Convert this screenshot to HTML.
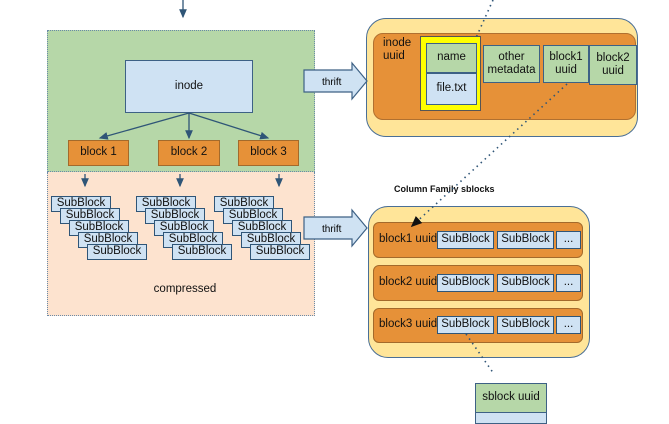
<!DOCTYPE html>
<html><head><style>
body{margin:0;width:669px;height:421px;background:#fff;position:relative;overflow:hidden;font-family:"Liberation Sans",sans-serif;font-size:11.5px;color:#111}
.a{position:absolute;box-sizing:border-box}
.c{display:flex;align-items:center;justify-content:center;text-align:center;line-height:1.15}
.bl{background:#cfe2f3;border:1px solid #3d6185}
.gr{background:#b6d7a8;border:1px solid #3d6185}
.or{background:#e69138;border:1px solid #a36a2b}
.sb{background:#cfe2f3;border:1.5px solid #2f5577;height:16px;width:60px;font-size:11.5px}
</style></head><body>
<div class="a" style="left:47px;top:30px;width:268px;height:142px;background:#b6d7a8;border:1px dotted #6a8aa8"></div>
<div class="a" style="left:47px;top:172px;width:268px;height:144px;background:#fde3cf;border:1px dotted #6a8aa8;border-top:none"></div>
<div class="a c bl" style="left:125px;top:60px;width:128px;height:53px">inode</div>
<div class="a c or" style="left:68px;top:140px;width:61px;height:26px">block 1</div>
<div class="a c or" style="left:158px;top:140px;width:62px;height:26px">block 2</div>
<div class="a c or" style="left:238px;top:140px;width:61px;height:26px">block 3</div>
<div class="a c" style="left:120px;top:282px;width:130px;height:16px">compressed</div>

<div class="a c sb" style="left:51px;top:196px">SubBlock</div>
<div class="a c sb" style="left:60px;top:208px">SubBlock</div>
<div class="a c sb" style="left:69px;top:220px">SubBlock</div>
<div class="a c sb" style="left:78px;top:232px">SubBlock</div>
<div class="a c sb" style="left:87px;top:244px">SubBlock</div>
<div class="a c sb" style="left:136px;top:196px">SubBlock</div>
<div class="a c sb" style="left:145px;top:208px">SubBlock</div>
<div class="a c sb" style="left:154px;top:220px">SubBlock</div>
<div class="a c sb" style="left:163px;top:232px">SubBlock</div>
<div class="a c sb" style="left:172px;top:244px">SubBlock</div>
<div class="a c sb" style="left:214px;top:196px">SubBlock</div>
<div class="a c sb" style="left:223px;top:208px">SubBlock</div>
<div class="a c sb" style="left:232px;top:220px">SubBlock</div>
<div class="a c sb" style="left:241px;top:232px">SubBlock</div>
<div class="a c sb" style="left:250px;top:244px">SubBlock</div>

<div class="a" style="left:366px;top:18px;width:272px;height:119px;background:#ffe599;border:1.5px solid #4a6f96;border-radius:20px"></div>
<div class="a or" style="left:373px;top:33px;width:263px;height:87px;border-radius:10px;border-color:#b07030"></div>
<div class="a" style="left:383px;top:37px;line-height:13px">inode<br>uuid</div>
<div class="a" style="left:420px;top:36px;width:61px;height:75px;background:#ffff00;border:1px solid #555"></div>
<div class="a c gr" style="left:426px;top:43px;width:51px;height:30px">name</div>
<div class="a c bl" style="left:426px;top:73px;width:51px;height:32px">file.txt</div>
<div class="a c gr" style="left:483px;top:45px;width:57px;height:38px">other<br>metadata</div>
<div class="a c gr" style="left:543px;top:45px;width:46px;height:38px">block1<br>uuid</div>
<div class="a c gr" style="left:589px;top:45px;width:48px;height:40px">block2<br>uuid</div>

<div class="a" style="left:394px;top:184px;font-size:9px;font-weight:bold">Column Family sblocks</div>

<div class="a" style="left:368px;top:206px;width:222px;height:152px;background:#ffe599;border:1.5px solid #4a6f96;border-radius:20px"></div>
<div class="a or" style="left:373px;top:222px;width:210px;height:36px;border-radius:6px"></div>
<div class="a or" style="left:373px;top:265px;width:210px;height:36px;border-radius:6px"></div>
<div class="a or" style="left:373px;top:308px;width:210px;height:35px;border-radius:6px"></div>
<div class="a" style="left:379px;top:233px">block1 uuid</div>
<div class="a" style="left:379px;top:276px">block2 uuid</div>
<div class="a" style="left:379px;top:318px">block3 uuid</div>
<div class="a c sb" style="left:437px;top:231px;width:57px;height:18px">SubBlock</div>
<div class="a c sb" style="left:497px;top:231px;width:57px;height:18px">SubBlock</div>
<div class="a c sb" style="left:556px;top:231px;width:25px;height:18px">...</div>
<div class="a c sb" style="left:437px;top:274px;width:57px;height:18px">SubBlock</div>
<div class="a c sb" style="left:497px;top:274px;width:57px;height:18px">SubBlock</div>
<div class="a c sb" style="left:556px;top:274px;width:25px;height:18px">...</div>
<div class="a c sb" style="left:437px;top:316px;width:57px;height:18px">SubBlock</div>
<div class="a c sb" style="left:497px;top:316px;width:57px;height:18px">SubBlock</div>
<div class="a c sb" style="left:556px;top:316px;width:25px;height:18px">...</div>

<div class="a c gr" style="left:475px;top:383px;width:72px;height:30px">sblock uuid</div>
<div class="a bl" style="left:475px;top:412px;width:72px;height:12px"></div>

<svg class="a" style="left:0;top:0" width="669" height="421">
<defs><marker id="m" markerWidth="8" markerHeight="8" refX="6" refY="3" orient="auto"><path d="M0,0L7,3L0,6z" fill="#2f5577"/></marker>
<marker id="k" markerWidth="8" markerHeight="8" refX="6" refY="3" orient="auto"><path d="M0,0L7,3L0,6z" fill="#111"/></marker></defs>
<g stroke="#2f5577" stroke-width="1.3" fill="none">
<line x1="183" y1="0" x2="183" y2="17" marker-end="url(#m)"/>
<line x1="189" y1="113" x2="100" y2="138" marker-end="url(#m)"/>
<line x1="189" y1="113" x2="189" y2="138" marker-end="url(#m)"/>
<line x1="189" y1="113" x2="268" y2="138" marker-end="url(#m)"/>
<line x1="85" y1="174" x2="85" y2="186" marker-end="url(#m)"/>
<line x1="180" y1="174" x2="180" y2="186" marker-end="url(#m)"/>
<line x1="279" y1="174" x2="279" y2="186" marker-end="url(#m)"/>
</g>
<g fill="#cfe2f3" stroke="#3d6185" stroke-width="1.2">
<path d="M304,70H352V63L367,81L352,99V92H304Z"/>
<path d="M304,217H352V210L367,228L352,246V239H304Z"/>
</g>
<text x="322" y="85" font-size="10" font-family="Liberation Sans">thrift</text>
<text x="322" y="232" font-size="10" font-family="Liberation Sans">thrift</text>
<g stroke="#2f5577" stroke-width="1.6" stroke-dasharray="1.5,4" fill="none">
<line x1="493" y1="0" x2="475" y2="40"/>
<line x1="567" y1="84" x2="412" y2="226" marker-end="url(#k)"/>
<line x1="466" y1="334" x2="494" y2="374"/>
</g>
</svg>
</body></html>
